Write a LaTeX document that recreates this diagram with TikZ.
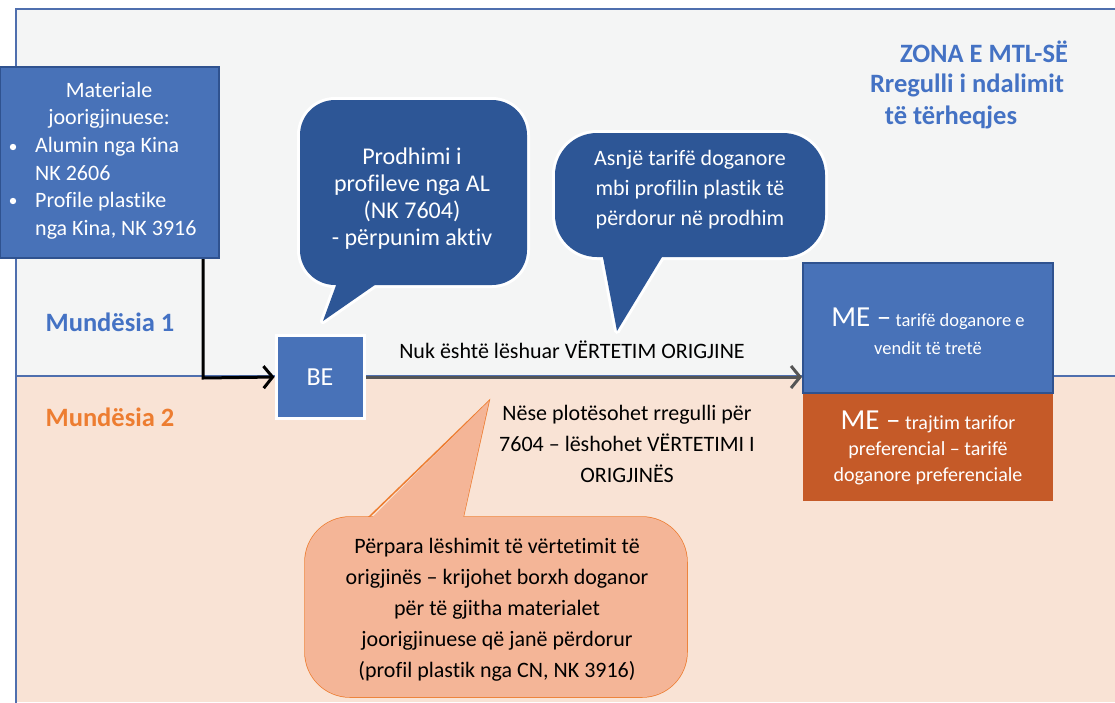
\documentclass[tikz,border=0pt]{standalone}
\usepackage{fontspec}
\setmainfont{Carlito}[Ligatures={NoCommon}]
\usetikzlibrary{arrows.meta}
\definecolor{bgtop}{HTML}{F4F5F5}
\definecolor{bgbot}{HTML}{F9E3D5}
\definecolor{frameblue}{HTML}{4F6FAE}
\definecolor{boxblue}{HTML}{4872B8}
\definecolor{boxedge}{HTML}{2F528F}
\definecolor{calldark}{HTML}{2D5696}
\definecolor{meorange}{HTML}{C55A28}
\definecolor{salmon}{HTML}{F4B597}
\definecolor{salmonedge}{HTML}{ED7D31}
\definecolor{txtblue}{HTML}{4472C4}
\definecolor{txtorange}{HTML}{ED7D31}
\definecolor{arrowgray}{HTML}{555555}
\tikzset{
  wtext/.style={text=white, inner sep=0pt, align=center, font=\fontsize{22}{27.5}\selectfont},
  ktext/.style={text=black, inner sep=0pt, align=center, font=\fontsize{22}{31}\selectfont},
  heading/.style={inner sep=0pt, font=\bfseries\fontsize{26.5}{30}\selectfont},
  bluebox/.style={draw=boxedge, line width=2pt, fill=boxblue, inner sep=0pt},
  chev/.style={-{Straight Barb[length=9pt, width=22pt, line width=3pt]}, line width=3pt},
}
\begin{document}
\begin{tikzpicture}[x=1pt, y=-1pt]
\useasboundingbox (0,0) rectangle (1115,702);

% zones
\fill[bgtop] (16,9) rectangle (1115,376);
\fill[bgbot] (16,376) rectangle (1115,702);
\draw[frameblue, line width=2pt] (1120,9) -- (16,9) -- (16,710);
\draw[frameblue, line width=2pt] (16,376) -- (1115,376);

% zone labels
\node[heading, text=txtblue] (zona) at (984,52) {ZONA E MTL-SË};
\node[heading, text=txtblue] (rregulli) at (967,85) {Rregulli i ndalimit};
\node[heading, text=txtblue] (terheqjes) at (951,117) {të tërheqjes};
\node[heading, text=txtblue] (m1) at (110,322) {Mundësia 1};
\node[heading, text=txtorange] (m2) at (110,417) {Mundësia 2};

% non-originating materials
\node[bluebox, minimum width=219pt, minimum height=191pt] (mat) at (109.5,162.5) {};
\node[wtext] (mattitle) at (109,105) {Materiale\\joorigjinuese:};
\node[wtext, align=left, anchor=west] (matlist) at (35,188) {Alumin nga Kina\\NK 2606\\Profile plastike\\nga Kina, NK 3916};
\fill[white] (13,147) circle (3.2);
\fill[white] (13,201) circle (3.2);

% BE box
\node[draw=white, line width=3pt, fill=boxblue, minimum width=88pt, minimum height=83pt,
      text=white, font=\fontsize{26}{30}\selectfont] (be) at (320,377) {BE};

% ME boxes
\node[bluebox, minimum width=250pt, minimum height=130pt] (metop) at (928,328) {};
\node[fill=meorange, minimum width=250pt, minimum height=107pt, inner sep=0pt] (mebot) at (928,447) {};
\draw[boxedge, line width=2pt] (803,263) rectangle (1053,393);
\node[wtext, font=\fontsize{18.5}{28}\selectfont] (metoptxt) at (928,331)
  {{\fontsize{29}{30}\selectfont ME –} tarifë doganore e\\vendit të tretë};
\node[wtext, font=\fontsize{20}{26}\selectfont] (mebottxt) at (928,448)
  {{\fontsize{29}{30}\selectfont ME –} trajtim tarifor\\preferencial – tarifë\\doganore preferenciale};

% connectors
\coordinate (bend) at (203,378);
\draw[chev, black] (mat.south -| bend) -- (bend) -- (be.west);
\draw[chev, arrowgray] (be.east) -- (metop.west |- be.east);

\node[ktext] (nuk) at (572,350) {Nuk është lëshuar VËRTETIM ORIGJINE};
\node[ktext] (nese) at (627,444)
  {Nëse plotësohet rregulli për\\7604 – lëshohet VËRTETIMI I\\ORIGJINËS};

% callout: production
\draw[white, line width=6pt, line join=round, rounded corners=35pt] (300,100) rectangle (527,285);
\draw[white, line width=6pt, line join=round] (338,280) -- (323,321) -- (382,280);
\fill[calldark, rounded corners=35pt] (300,100) rectangle (527,285);
\fill[calldark] (338,280) -- (323,321) -- (382,280) -- cycle;
\node[wtext, font=\fontsize{24}{27}\selectfont] (prod) at (412,199)
  {Prodhimi i\\profileve nga AL\\(NK 7604)\\- përpunim aktiv};

% callout: no duty
\draw[white, line width=6pt, line join=round, rounded corners=42pt] (555,133) rectangle (825,257);
\draw[white, line width=6pt, line join=round] (602,252) -- (617,331) -- (665,252);
\fill[calldark, rounded corners=42pt] (555,133) rectangle (825,257);
\fill[calldark] (602,252) -- (617,331) -- (665,252) -- cycle;
\node[wtext, font=\fontsize{22}{30}\selectfont] (asnje) at (690,190)
  {Asnjë tarifë doganore\\mbi profilin plastik të\\përdorur në prodhim};

% callout: customs debt
\draw[salmonedge, line width=1.5pt, rounded corners=45pt] (305,517) rectangle (687,697);
\draw[salmonedge, line width=1.5pt, line join=miter] (368,518) -- (489,401) -- (463,518);
\fill[salmon, rounded corners=45pt] (305,517) rectangle (687,697);
\fill[salmon] (368.5,521) -- (489,401) -- (462.5,521) -- cycle;
\node[ktext, font=\fontsize{22}{31}\selectfont] (borxh) at (497,610)
  {Përpara lëshimit të vërtetimit të\\origjinës – krijohet borxh doganor\\për të gjitha materialet\\joorigjinuese që janë përdorur\\(profil plastik nga CN, NK 3916)};
\end{tikzpicture}
\end{document}
